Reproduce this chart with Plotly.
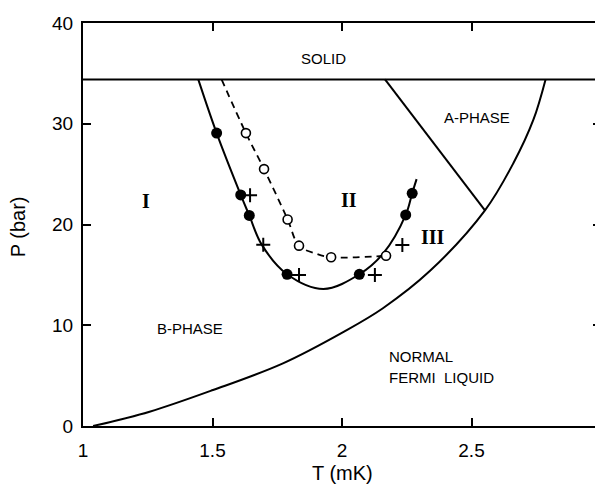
import plotly.graph_objects as go

# ---- data ----
solid_P = 34.4
x_ticks = [1, 1.5, 2, 2.5, 3]
x_ticktext = ["1", "1.5", "2", "2.5", "3"]
y_ticks = [0, 10, 20, 30, 40]
y_ticktext = ["0", "10", "20", "30", "40"]

# normal / superfluid transition line
tc_T = [1.039, 1.257, 1.502, 1.772, 2.008, 2.158, 2.34, 2.552, 2.662, 2.739, 2.786]
tc_P = [0.0, 1.42, 3.57, 6.22, 9.37, 11.69, 15.4, 21.4, 26.1, 30.4, 34.4]

# A-B transition line
ab_T = [2.166, 2.552]
ab_P = [34.4, 21.4]

# solid curve (I / II boundary)
c1_T = [1.445, 1.516, 1.609, 1.642, 1.69, 1.788, 1.928, 2.067, 2.16, 2.246, 2.271, 2.288]
c1_P = [34.4, 29.07, 22.94, 20.9, 18.0, 15.06, 13.6, 15.06, 17.15, 20.95, 23.1, 24.5]

# dashed curve
c2_T = [1.535, 1.629, 1.699, 1.790, 1.834, 1.90, 1.958, 2.170]
c2_P = [34.4, 29.07, 25.5, 20.5, 17.9, 17.1, 16.75, 16.9]

# filled circles
fill_T = [1.516, 1.609, 1.642, 1.788, 2.067, 2.246, 2.271]
fill_P = [29.07, 22.94, 20.9, 15.06, 15.06, 20.95, 23.1]

# open circles
open_T = [1.629, 1.699, 1.790, 1.834, 1.958, 2.170]
open_P = [29.07, 25.5, 20.5, 17.9, 16.75, 16.9]

# crosses
cross_T = [1.645, 1.696, 1.834, 2.127, 2.233]
cross_P = [22.9, 18.0, 15.0, 15.0, 17.97]

fig = go.Figure()

fig.add_trace(go.Scatter(x=[1, 3], y=[solid_P, solid_P], mode="lines",
                         line=dict(color="black", width=2), hoverinfo="skip"))
fig.add_trace(go.Scatter(x=tc_T, y=tc_P, mode="lines",
                         line=dict(color="black", width=2, shape="spline"), hoverinfo="skip"))
fig.add_trace(go.Scatter(x=ab_T, y=ab_P, mode="lines",
                         line=dict(color="black", width=2), hoverinfo="skip"))
fig.add_trace(go.Scatter(x=c1_T, y=c1_P, mode="lines",
                         line=dict(color="black", width=2, shape="spline"), hoverinfo="skip"))
fig.add_trace(go.Scatter(x=c2_T, y=c2_P, mode="lines",
                         line=dict(color="black", width=1.8, shape="spline", dash="7px,5px"),
                         hoverinfo="skip"))
fig.add_trace(go.Scatter(x=fill_T, y=fill_P, mode="markers",
                         marker=dict(symbol="circle", size=11, color="black"), hoverinfo="skip"))
fig.add_trace(go.Scatter(x=open_T, y=open_P, mode="markers",
                         marker=dict(symbol="circle", size=9, color="white",
                                     line=dict(color="black", width=1.6)), hoverinfo="skip"))
fig.add_trace(go.Scatter(x=cross_T, y=cross_P, mode="markers",
                         marker=dict(symbol="cross-thin", size=10,
                                     line=dict(color="black", width=2)), hoverinfo="skip"))

lab_font = dict(family="Liberation Sans", size=15, color="black")
rom_font = dict(family="Liberation Serif", size=20, color="black", weight="bold")

annotations = [
    dict(x=1.927, y=36.5, text="SOLID", font=lab_font),
    dict(x=2.523, y=30.6, text="A-PHASE", font=lab_font),
    dict(x=1.412, y=9.7, text="B-PHASE", font=lab_font),
    dict(x=2.172, y=6.85, text="NORMAL", font=lab_font, xanchor="left"),
    dict(x=2.172, y=4.77, text="FERMI  LIQUID", font=lab_font, xanchor="left"),
    dict(x=1.242, y=22.3, text="I", font=rom_font),
    dict(x=2.028, y=22.4, text="II", font=rom_font),
    dict(x=2.350, y=18.8, text="III", font=rom_font),
]
for a in annotations:
    a.update(xref="x", yref="y", showarrow=False)
    a.setdefault("xanchor", "center")
    a["yanchor"] = "middle"

title_font = dict(family="Liberation Sans", size=20, color="black")
annotations.append(dict(x=2.0, xref="x", y=-0.117, yref="paper", text="T (mK)",
                        showarrow=False, font=title_font, xanchor="center", yanchor="middle"))
annotations.append(dict(x=-0.125, xref="paper", y=19.75, yref="y", text="P (bar)",
                        showarrow=False, font=title_font, textangle=-90,
                        xanchor="center", yanchor="middle"))

axis_common = dict(showline=True, linecolor="black", linewidth=2, mirror="ticks",
                   ticks="inside", ticklen=8, tickwidth=1.5, tickcolor="black",
                   showgrid=False, zeroline=False, automargin=False,
                   ticklabeloverflow="allow",
                   tickfont=dict(family="Liberation Sans", size=19, color="black"))

# the page adds an 8px body margin, so the figure is offset by (8, 8)
fig.update_layout(
    width=595, height=477,
    margin=dict(l=75, r=2, t=15, b=59),
    paper_bgcolor="white", plot_bgcolor="white",
    showlegend=False,
    xaxis=dict(range=[1, 3], tickvals=x_ticks, ticktext=x_ticktext,
               ticklabelstandoff=6, **axis_common),
    yaxis=dict(range=[0, 40], tickvals=y_ticks, ticktext=y_ticktext,
               ticklabelstandoff=4, **axis_common),
    annotations=annotations,
)

fig.write_html("out.html")
